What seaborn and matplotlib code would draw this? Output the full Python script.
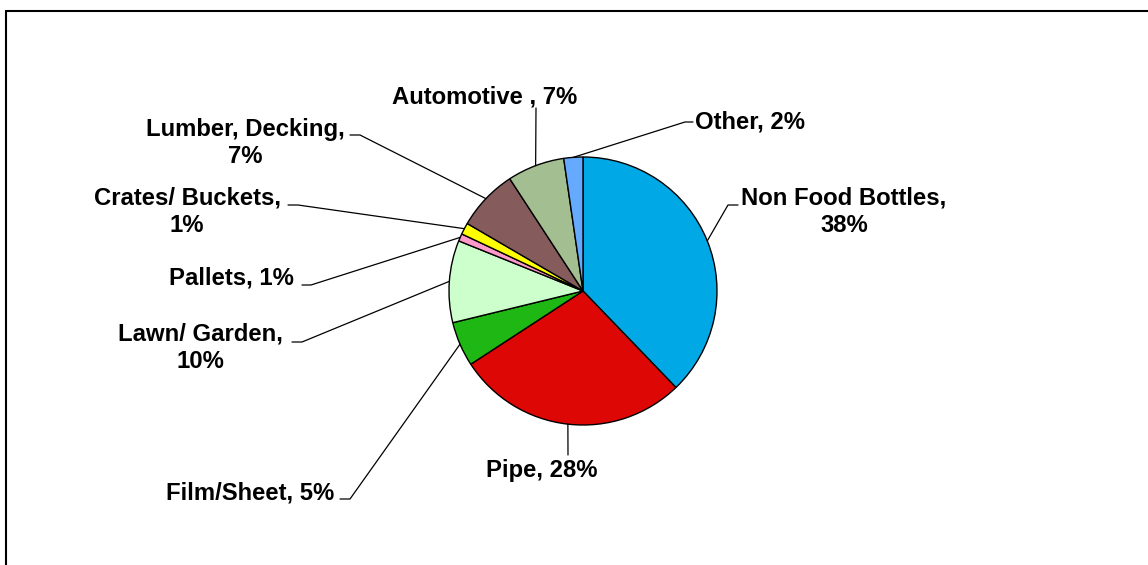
import matplotlib
matplotlib.use("Agg")
import matplotlib.pyplot as plt
import seaborn as sns
import numpy as np

sns.set_theme(style="white")
plt.rcParams['font.family'] = ['Liberation Sans', 'DejaVu Sans']

categories = ["Non Food Bottles", "Pipe", "Film/Sheet", "Lawn/ Garden", "Pallets",
              "Crates/ Buckets", "Lumber, Decking", "Automotive ", "Other"]
values = [37.8, 28.0, 5.4, 9.9, 0.9, 1.4, 7.4, 6.9, 2.3]
colors = ["#00A9E6", "#DD0806", "#1FB714", "#CCFFCC", "#FF99CC",
          "#FFFF00", "#865B5B", "#A3BE91", "#66AAFF"]

W, H = 1148, 565
fig = plt.figure(figsize=(W / 100, H / 100), dpi=100)
ax = fig.add_axes([0, 0, 1, 1])

cx, cy, r = 583, H - 291, 134
wedges, _ = ax.pie(values, colors=colors, startangle=90, counterclock=False,
                   center=(cx, cy), radius=r,
                   wedgeprops=dict(edgecolor="black", linewidth=1.0))
ax.set_xlim(0, W)
ax.set_ylim(0, H)
ax.set_aspect("equal")
ax.axis("off")

# label layout: (text x, text y, ha, elbow point, elbow end) in image pixels
layout = {
    "Non Food Bottles": dict(tx=844, ty=212, ha="center", text="Non Food Bottles,\n{p}", elbow=(728, 205), end=(738, 205)),
    "Pipe": dict(tx=542, ty=470, ha="center", text="Pipe, {p}", elbow=(568, 455), end=(568, 455)),
    "Film/Sheet": dict(tx=334, ty=493, ha="right", text="Film/Sheet, {p}", elbow=(350, 499), end=(340, 499)),
    "Lawn/ Garden": dict(tx=200, ty=348, ha="center", text="Lawn/ Garden,\n{p}", elbow=(302, 342), end=(292, 342)),
    "Pallets": dict(tx=294, ty=278, ha="right", text="Pallets, {p}", elbow=(311, 285), end=(302, 285)),
    "Crates/ Buckets": dict(tx=187, ty=212, ha="center", text="Crates/ Buckets,\n{p}", elbow=(298, 205), end=(288, 205)),
    "Lumber, Decking": dict(tx=245, ty=143, ha="center", text="Lumber, Decking,\n{p}", elbow=(360, 135), end=(350, 135)),
    "Automotive ": dict(tx=485, ty=97, ha="center", text="Automotive , {p}", elbow=(536, 108), end=(536, 108)),
    "Other": dict(tx=695, ty=122, ha="left", text="Other, {p}", elbow=(685, 122), end=(693, 122)),
}

for w, cat, v in zip(wedges, categories, values):
    L = layout[cat]
    mid = np.deg2rad((w.theta1 + w.theta2) / 2)
    px, py = cx + r * np.cos(mid), cy + r * np.sin(mid)
    ex, ey = L["elbow"]
    fx, fy = L["end"]
    ax.plot([px, ex, fx], [py, H - ey, H - fy], color="black", lw=0.9)
    ax.text(L["tx"], H - L["ty"], L["text"].format(p=f"{round(v):.0f}%"),
            ha=L["ha"], va="center", fontsize=17.2, fontweight="bold",
            linespacing=1.27, color="black")

# chart frame (top and left edges visible)
ax.plot([6, W], [H - 11, H - 11], color="black", lw=1.5)
ax.plot([6, 6], [H - 11, 0], color="black", lw=1.5)

fig.savefig("out.png", dpi=100)
